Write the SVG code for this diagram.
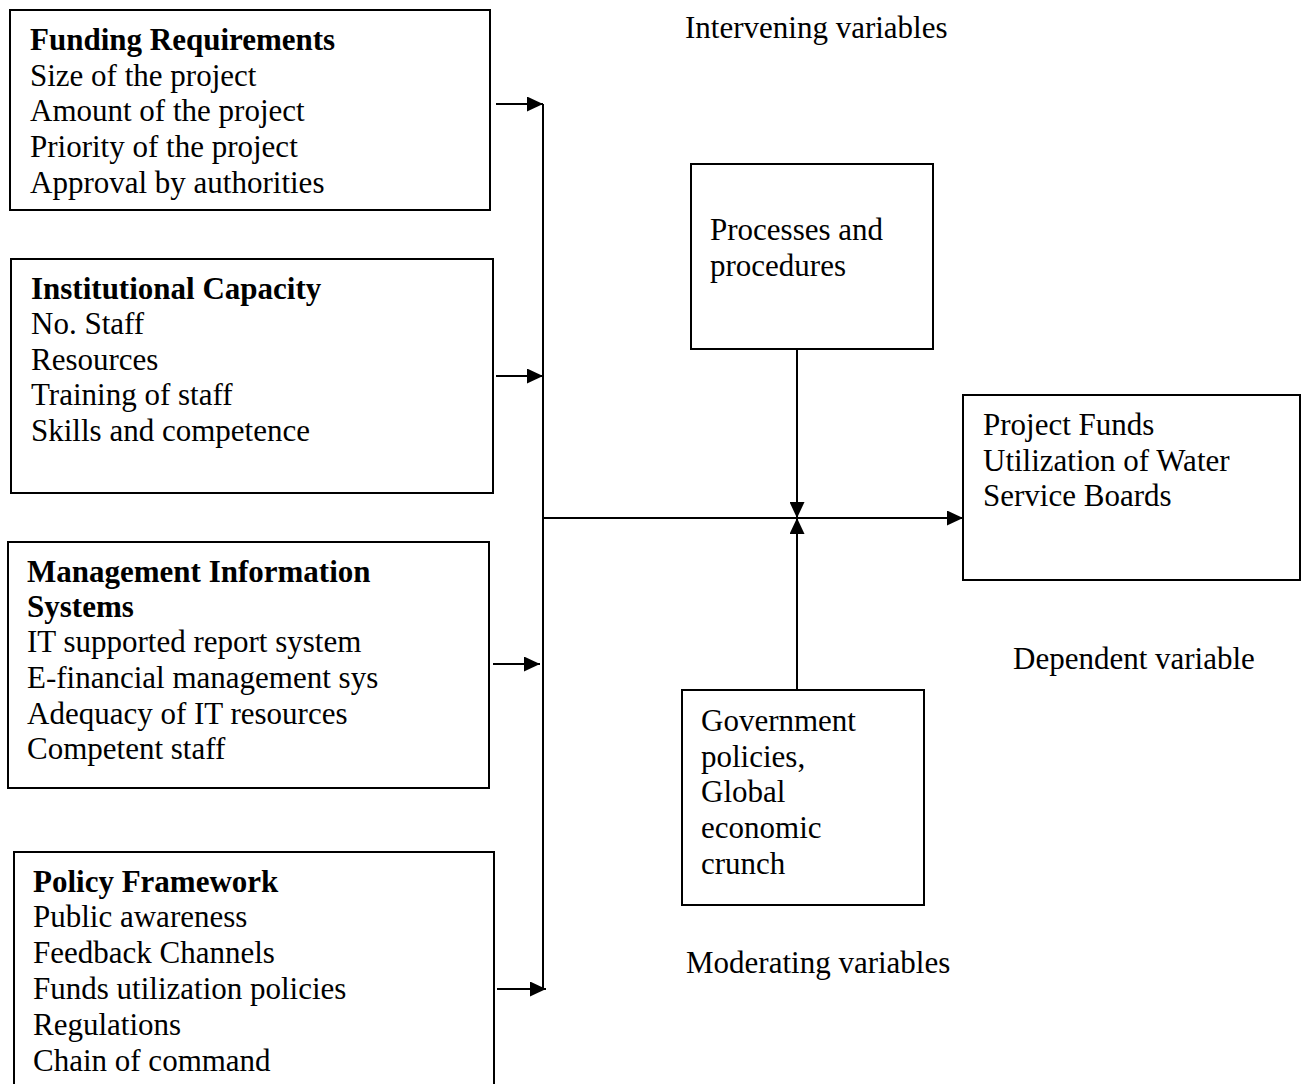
<svg xmlns="http://www.w3.org/2000/svg" width="1307" height="1084" viewBox="0 0 1307 1084">
<defs>
<marker id="ah" viewBox="0 0 16 15" refX="16" refY="7.5" markerWidth="16" markerHeight="15" markerUnits="userSpaceOnUse" orient="auto">
<path d="M0,0 L16,7.5 L0,15 Z" fill="#000"/>
</marker>
<style>
.box{fill:#fff;stroke:#000;stroke-width:2}
.t{font-family:"Liberation Serif","Times New Roman",serif;font-size:31px;fill:#000}
.b{font-weight:bold}
.ln{stroke:#000;stroke-width:2;fill:none}
</style>
</defs>
<rect width="1307" height="1084" fill="#fff"/>
<g id="funding">
<rect class="box" x="10" y="10" width="480" height="200"/>
<text class="t b" x="30" y="50">Funding Requirements</text>
<text class="t" x="30" y="86">Size of the project</text>
<text class="t" x="30" y="121">Amount of the project</text>
<text class="t" x="30" y="157">Priority of the project</text>
<text class="t" x="30" y="193">Approval by authorities</text>
</g>
<g id="institutional">
<rect class="box" x="11" y="259" width="482" height="234"/>
<text class="t b" x="31" y="299">Institutional Capacity</text>
<text class="t" x="31" y="334">No. Staff</text>
<text class="t" x="31" y="370">Resources</text>
<text class="t" x="31" y="405">Training of staff</text>
<text class="t" x="31" y="441">Skills and competence</text>
</g>
<g id="mis">
<rect class="box" x="8" y="542" width="481" height="246"/>
<text class="t b" x="27" y="582">Management Information</text>
<text class="t b" x="27" y="617">Systems</text>
<text class="t" x="27" y="652">IT supported report system</text>
<text class="t" x="27" y="688">E-financial management sys</text>
<text class="t" x="27" y="724">Adequacy of IT resources</text>
<text class="t" x="27" y="759">Competent staff</text>
</g>
<g id="policy">
<rect class="box" x="14" y="852" width="480" height="240"/>
<text class="t b" x="33" y="892">Policy Framework</text>
<text class="t" x="33" y="927">Public awareness</text>
<text class="t" x="33" y="963">Feedback Channels</text>
<text class="t" x="33" y="999">Funds utilization policies</text>
<text class="t" x="33" y="1035">Regulations</text>
<text class="t" x="33" y="1071">Chain of command</text>
</g>
<g id="processes">
<rect class="box" x="691" y="164" width="242" height="185"/>
<text class="t" x="710" y="240">Processes and</text>
<text class="t" x="710" y="276">procedures</text>
</g>
<g id="project-funds">
<rect class="box" x="963" y="395" width="337" height="185"/>
<text class="t" x="983" y="435">Project Funds</text>
<text class="t" x="983" y="471">Utilization of Water</text>
<text class="t" x="983" y="506">Service Boards</text>
</g>
<g id="government">
<rect class="box" x="682" y="690" width="242" height="215"/>
<text class="t" x="701" y="731">Government</text>
<text class="t" x="701" y="767">policies,</text>
<text class="t" x="701" y="802">Global</text>
<text class="t" x="701" y="838">economic</text>
<text class="t" x="701" y="874">crunch</text>
</g>
<g id="labels">
<text class="t" x="685" y="38">Intervening variables</text>
<text class="t" x="1013" y="669">Dependent variable</text>
<text class="t" x="686" y="973">Moderating variables</text>
</g>
<g id="connectors">
<line class="ln" x1="543" y1="104" x2="543" y2="990"/>
<line class="ln" x1="496" y1="104" x2="543" y2="104" marker-end="url(#ah)"/>
<line class="ln" x1="496" y1="376" x2="543" y2="376" marker-end="url(#ah)"/>
<line class="ln" x1="493" y1="664" x2="540" y2="664" marker-end="url(#ah)"/>
<line class="ln" x1="497" y1="989" x2="546" y2="989" marker-end="url(#ah)"/>
<line class="ln" x1="543" y1="518" x2="963" y2="518" marker-end="url(#ah)"/>
<line class="ln" x1="797" y1="349" x2="797" y2="518" marker-end="url(#ah)"/>
<line class="ln" x1="797" y1="690" x2="797" y2="518" marker-end="url(#ah)"/>
</g>
</svg>
